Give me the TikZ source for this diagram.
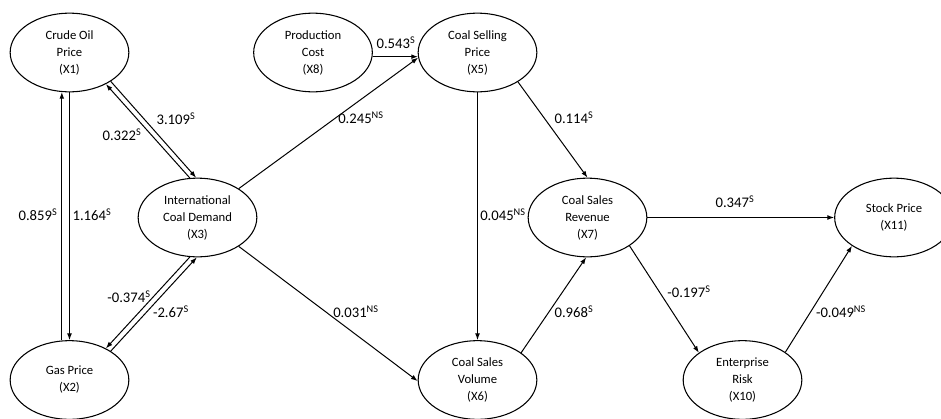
\documentclass[tikz,border=0pt]{standalone}
\usepackage{fontspec}
\setmainfont{Carlito}
\usetikzlibrary{shapes.geometric, arrows.meta}

\begin{document}
\begin{tikzpicture}[
  x=0.75pt,
  y=-0.75pt,
  every node/.style={
    inner sep=0mm
  },
  var/.style={
    ellipse,
    draw,
    line width=0.8pt,
    minimum width=89pt,
    minimum height=59pt,
    align=center,
    font=\fontsize{9.5}{12.75}\selectfont
  },
  coef/.style={
    font=\fontsize{11}{13}\selectfont
  },
  link/.style={
    draw,
    line width=0.75pt,
    -{Latex[length=5pt, width=3.6pt]}
  },
]

\useasboundingbox (0,0) rectangle (941,418);

\node[var] (x1) at (69.5,52.5) {Crude Oil\\Price\\(X1)};
\node[var] (x2) at (69.5,380) {Gas Price\\(X2)};
\node[var] (x3) at (197.5,217.5) {International\\Coal Demand\\(X3)};
\node[var] (x8) at (313,52.5) {Production\\Cost\\(X8)};
\node[var] (x5) at (477.5,52.5) {Coal Selling\\Price\\(X5)};
\node[var] (x6) at (477.5,380) {Coal Sales\\Volume\\(X6)};
\node[var] (x7) at (587.5,217.5) {Coal Sales\\Revenue\\(X7)};
\node[var] (x10) at (742.5,380) {Enterprise\\Risk\\(X10)};
\node[var] (x11) at (894,217.5) {Stock Price\\(X11)};

\draw[link] (x2.101) -- (x1.259);
\draw[link] (x1.south) -- (x2.north);
\draw[link] (x3.101) -- (x1.319);
\draw[link] (x1.325) -- (x3.92);
\draw[link] (x3.259) -- (x2.41);
\draw[link] (x2.35) -- (x3.269);
\draw[link] (x3.35) -- (x5.185);
\draw[link] (x8.-4) -- (x5.184);
\draw[link] (x3.-35) -- (x6.181);
\draw[link] (x5.south) -- (x6.north);
\draw[link] (x5.-36) -- (x7.north);
\draw[link] (x6.32) -- (x7.-92);
\draw[link] (x7.east) -- (x11.west);
\draw[link] (x7.-34) -- (x10.148);
\draw[link] (x10.33) -- (x11.214);

\node[coef] (w21) at (38,215) {0.859\textsuperscript{S}};
\node[coef] (w12) at (92,215) {1.164\textsuperscript{S}};
\node[coef] (w31) at (122,135) {0.322\textsuperscript{S}};
\node[coef] (w13) at (176,119) {3.109\textsuperscript{S}};
\node[coef] (w32) at (129,297) {-0.374\textsuperscript{S}};
\node[coef] (w23) at (171,312) {-2.67\textsuperscript{S}};
\node[coef] (w35) at (361,118) {0.245\textsuperscript{NS}};
\node[coef] (w85) at (396,43) {0.543\textsuperscript{S}};
\node[coef] (w57) at (574,118) {0.114\textsuperscript{S}};
\node[coef] (w56) at (503,215) {0.045\textsuperscript{NS}};
\node[coef] (w36) at (356,312) {0.031\textsuperscript{NS}};
\node[coef] (w67) at (574,312) {0.968\textsuperscript{S}};
\node[coef] (w711) at (735,202) {0.347\textsuperscript{S}};
\node[coef] (w710) at (689,292) {-0.197\textsuperscript{S}};
\node[coef] (w1011) at (841,312) {-0.049\textsuperscript{NS}};

\end{tikzpicture}
\end{document}
